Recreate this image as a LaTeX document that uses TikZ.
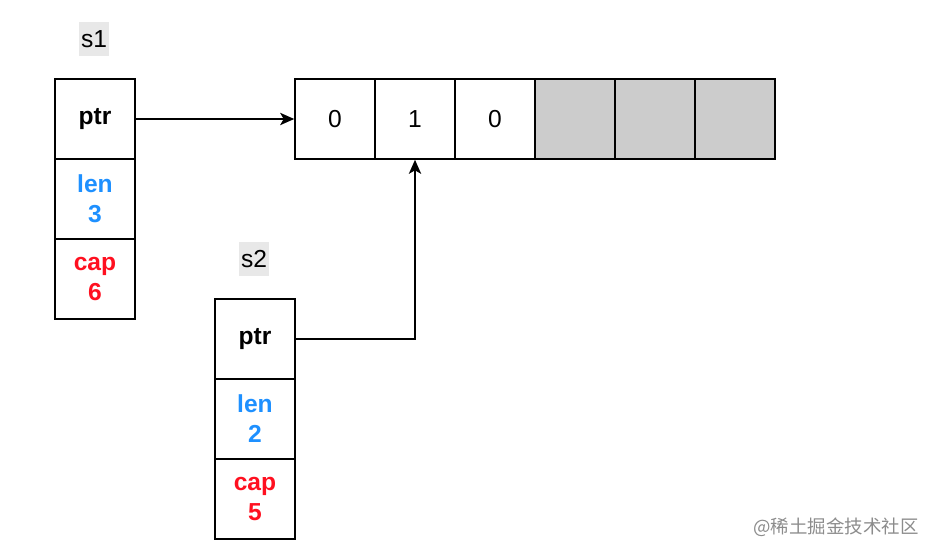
\documentclass[tikz,border=0pt]{standalone}
\usepackage{fontspec}
\setmainfont{Liberation Sans}
\newfontfamily\cjk{Noto Sans CJK SC}
\usetikzlibrary{arrows.meta}
\definecolor{lenblue}{RGB}{30,144,255}
\definecolor{capred}{RGB}{255,16,32}
\definecolor{slotgray}{RGB}{204,204,204}
\definecolor{lblgray}{RGB}{232,232,232}
\tikzset{
  cell/.style={draw,line width=0.9pt,minimum size=1.6cm,inner sep=0pt,
    font=\fontsize{14}{17}\selectfont},
  field/.style={cell,align=center,font=\fontsize{14}{17}\selectfont\bfseries},
  lbl/.style={fill=lblgray,inner sep=1pt,minimum width=0.56cm,
    minimum height=0.68cm,font=\fontsize{14}{17}\selectfont},
  arr/.style={-{Stealth[length=8pt,width=7pt,inset=2pt]},line width=0.9pt}
}
\begin{document}
\begin{tikzpicture}[x=0.02cm,y=-0.02cm]
    \useasboundingbox (0,0) rectangle (934,554);

    % s1 header
    \node[lbl] (s1lbl) at (94,39) {s1};
    \node[field] (s1ptr) at (95,119) {ptr};
    \node[field,text=lenblue] (s1len) at (95,199) {len\\3};
    \node[field,text=capred] (s1cap) at (95,279) {cap\\6};

    % s2 header
    \node[lbl] (s2lbl) at (254,259) {s2};
    \node[field] (s2ptr) at (255,339) {ptr};
    \node[field,text=lenblue] (s2len) at (255,419) {len\\2};
    \node[field,text=capred] (s2cap) at (255,499) {cap\\5};

    % backing array
    \foreach \i/\v in {0/0,1/1,2/0}
        \node[cell] (a\i) at (335+80*\i,119) {\v};
    \foreach \i in {3,4,5}
        \node[cell,fill=slotgray] (a\i) at (335+80*\i,119) {};

    \draw[arr] (s1ptr.east) -- (a0.west);
    \draw[arr] (s2ptr.east) -| (a1.south);

    \node[text=black!45,font=\cjk\fontsize{10.5}{12}\selectfont] (mark)
        at (836,527) {@稀土掘金技术社区};
\end{tikzpicture}
\end{document}
